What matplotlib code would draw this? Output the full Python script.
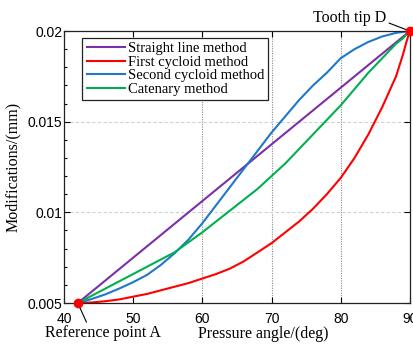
import matplotlib
matplotlib.use("Agg")
import matplotlib.pyplot as plt
from matplotlib.ticker import MultipleLocator

angle = [42, 44, 46, 48, 50, 52, 54, 56, 58, 60, 62, 64, 66, 68, 70,
         72, 74, 76, 78, 80, 82, 84, 86, 88, 89, 89.5, 90]

straight_angle = [42, 90]
straight = [0.005, 0.020]

first_cycloid = [0.0050, 0.00503, 0.0051, 0.0052, 0.00535, 0.0055, 0.0057, 0.0059,
                 0.0061, 0.00635, 0.0066, 0.0069, 0.0073, 0.0078, 0.0083, 0.0089,
                 0.0095, 0.0102, 0.0110, 0.0119, 0.0130, 0.0143, 0.0158, 0.0175,
                 0.0187, 0.0194, 0.0200]

second_cycloid = [0.0050, 0.00522, 0.00548, 0.0058, 0.00615, 0.00655, 0.0071, 0.00775,
                  0.0085, 0.0094, 0.0104, 0.0114, 0.0124, 0.0134, 0.0144, 0.0153,
                  0.0162, 0.0170, 0.0177, 0.0185, 0.0190, 0.0194, 0.0197, 0.0199,
                  0.01995, 0.01998, 0.0200]

catenary = [0.0050, 0.0054, 0.0058, 0.0062, 0.0066, 0.0070, 0.0074, 0.0078,
            0.00835, 0.0089, 0.0095, 0.0101, 0.0107, 0.0113, 0.0120, 0.0127,
            0.0135, 0.0143, 0.0151, 0.0159, 0.0168, 0.0177, 0.0185, 0.0193,
            0.0196, 0.0198, 0.0200]

labels = ["Straight line method", "First cycloid method",
          "Second cycloid method", "Catenary method"]
colors = ["#7B2FA8", "#FF0000", "#1F78C8", "#00B04F"]

point_A = (42, 0.005)
point_D = (90, 0.02)

xticks = [40, 50, 60, 70, 80, 90]
xgrid = [60, 70, 80]
yticks = [0.005, 0.01, 0.015, 0.02]
ytick_labels = ["0.005", "0.01", "0.015", "0.02"]
ygrid = [0.01, 0.015]

fig = plt.figure(figsize=(4.14, 3.45), dpi=100)
ax = fig.add_axes([0.1546, 0.1217, 0.8354, 0.7883])

for g in xgrid:
    ax.axvline(g, color="#8c8c8c", linestyle=(0, (1, 1.2)), linewidth=0.8, zorder=0)
for g in ygrid:
    ax.axhline(g, color="#d0d0d0", linestyle=(0, (3, 2)), linewidth=0.8, zorder=0)

ax.plot(straight_angle, straight, color=colors[0], lw=1.5, label=labels[0])
ax.plot(angle, first_cycloid, color=colors[1], lw=1.5, label=labels[1])
ax.plot(angle, second_cycloid, color=colors[2], lw=1.5, label=labels[2])
ax.plot(angle, catenary, color=colors[3], lw=1.5, label=labels[3])

ax.plot([point_A[0], point_D[0]], [point_A[1], point_D[1]], linestyle="none",
        marker="o", color="#FF0000", markersize=6, clip_on=False, zorder=5)

ax.set_xlim(40, 90)
ax.set_ylim(0.005, 0.02)
ax.set_xticks(xticks)
ax.set_xticklabels([str(t) for t in xticks], fontfamily="Liberation Sans", fontsize=10)
ax.set_yticks(yticks)
ax.set_yticklabels(ytick_labels, fontfamily="Liberation Sans", fontsize=10)
ax.yaxis.set_minor_locator(MultipleLocator(0.001))

ax.tick_params(axis="x", which="major", direction="in", top=True, bottom=True,
               length=4, width=0.8, pad=6.5)
ax.tick_params(axis="y", which="major", direction="in", left=True, right=True,
               length=4, width=0.8, pad=1)
ax.tick_params(axis="y", which="minor", direction="in", left=True, right=False,
               length=2.5, width=0.8)
for s in ax.spines.values():
    s.set_linewidth(0.9)
    s.set_color("#222222")

ax.set_xlabel("Pressure angle/(deg)", fontfamily="Liberation Serif", fontsize=11.5)
ax.set_ylabel("Modifications/(mm)", fontfamily="Liberation Serif", fontsize=11.5)
ax.xaxis.set_label_coords(0.575, -0.085)
ax.yaxis.set_label_coords(-0.125, 0.5)

leg = ax.legend(loc="upper left", bbox_to_anchor=(0.053, 0.975),
                prop={"family": "Liberation Serif", "size": 10.5},
                frameon=True, fancybox=False, framealpha=1, edgecolor="#222222",
                handlelength=2.6, handletextpad=0.2, labelspacing=0.02,
                borderpad=0.3, borderaxespad=0)
leg.get_frame().set_linewidth(0.9)

ax.annotate("Tooth tip D", xy=point_D, xytext=(76.0, 0.02072),
            fontfamily="Liberation Serif", fontsize=11.5, ha="left", va="center",
            annotation_clip=False,
            arrowprops=dict(arrowstyle="-", color="black", lw=0.8,
                            relpos=(1.0, 0.25), shrinkA=0, shrinkB=3))
ax.annotate("Reference point A", xy=point_A, xytext=(45.6, 0.00335),
            fontfamily="Liberation Serif", fontsize=11.5, ha="center", va="center",
            annotation_clip=False,
            arrowprops=dict(arrowstyle="-", color="black", lw=0.8,
                            relpos=(0.37, 1.0), shrinkA=0, shrinkB=3))

fig.savefig("out.png", dpi=100)
